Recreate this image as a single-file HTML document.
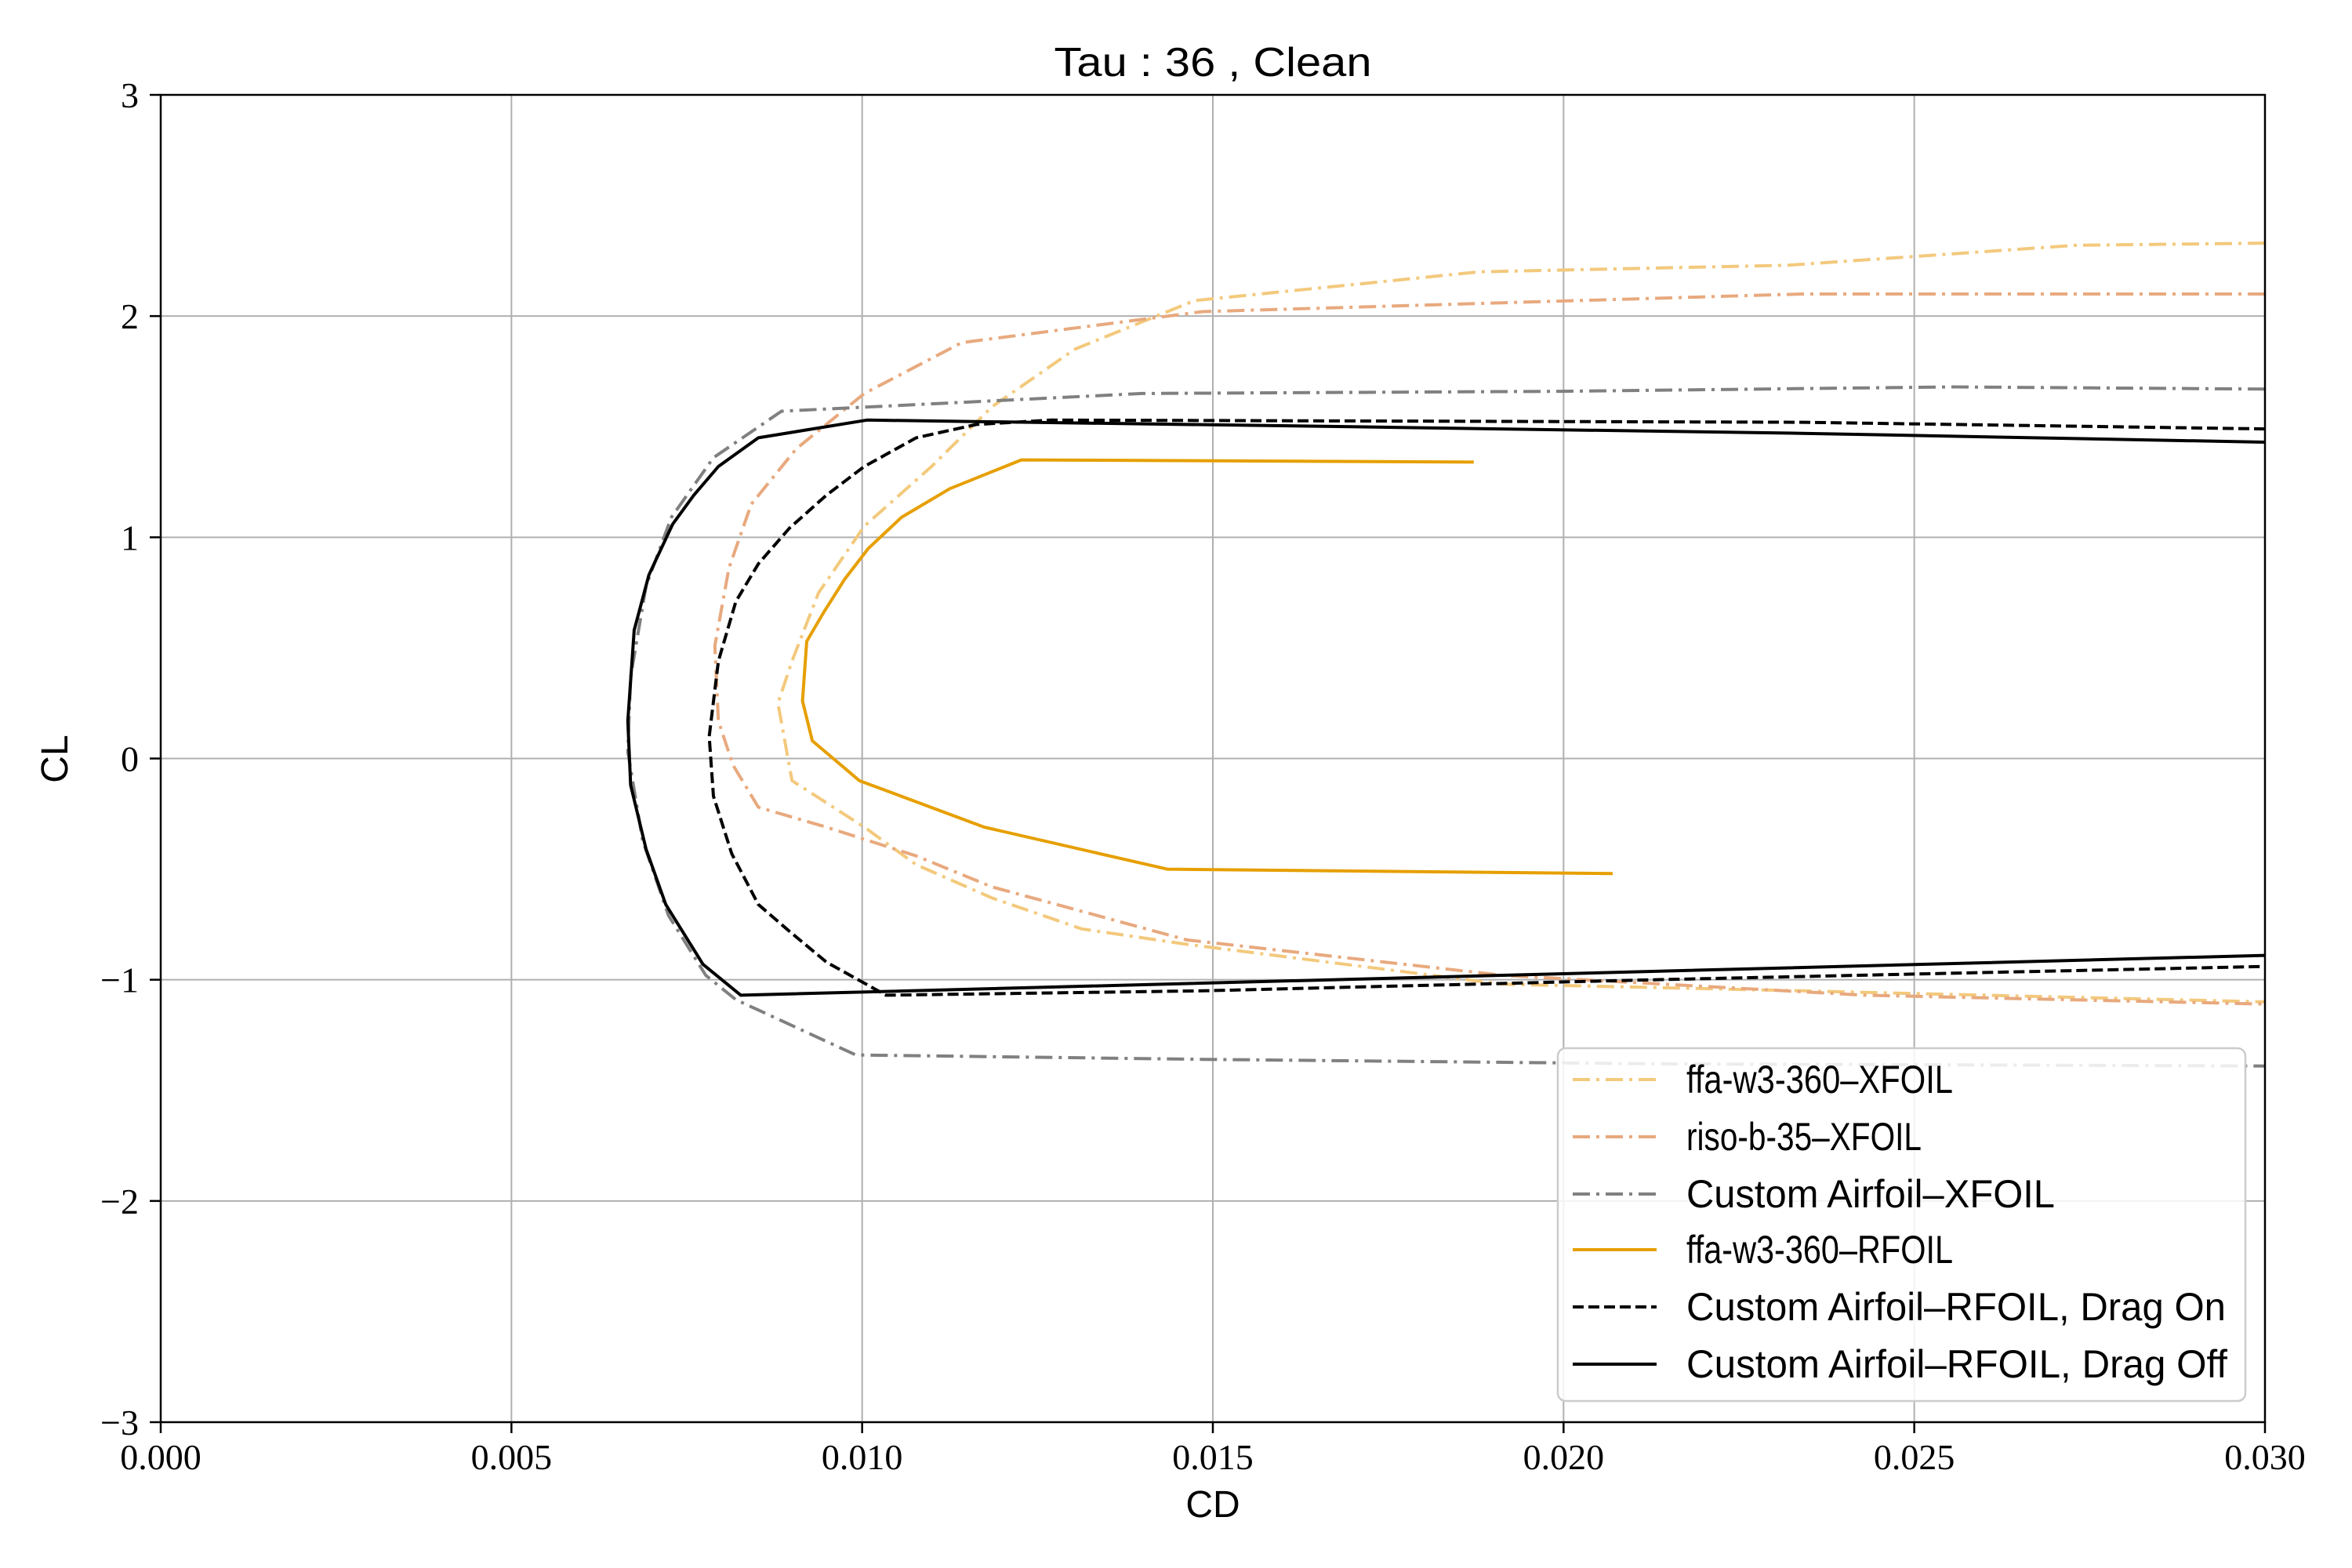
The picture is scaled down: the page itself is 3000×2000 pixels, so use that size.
<!DOCTYPE html>
<html><head><meta charset="utf-8"><style>
html,body{margin:0;padding:0;background:#fff;}
svg{display:block;}
.tick{font-family:"Liberation Serif",serif;font-size:46px;fill:#000;}
.lab{font-family:"Liberation Sans",sans-serif;fill:#000;}
</style></head><body>
<svg id="chart" width="3000" height="2000" viewBox="0 0 3000 2000">
<rect width="3000" height="2000" fill="#fff"/>
<g id="grid"></g>
<g id="series"></g>
<rect x="205" y="121" width="2684" height="1693" fill="none" stroke="#000" stroke-width="2.5"/>
<g id="ticks"></g>
<text x="1547" y="97" text-anchor="middle" class="lab" font-size="52" textLength="405" lengthAdjust="spacingAndGlyphs">Tau : 36 , Clean</text>
<text x="1547" y="1935" text-anchor="middle" class="lab" font-size="48">CD</text>
<text x="86" y="968" text-anchor="middle" class="lab" font-size="48" transform="rotate(-90 86 968)">CL</text>
<g id="legend"></g>
</svg>
<script>
const xTicks=[0,0.005,0.010,0.015,0.020,0.025,0.030];
const xTickLabels=["0.000","0.005","0.010","0.015","0.020","0.025","0.030"];
const yTicks=[-3,-2,-1,0,1,2,3];
const yTickLabels=["\u22123","\u22122","\u22121","0","1","2","3"];
const seriesNames=["ffa-w3-360\u2013XFOIL","riso-b-35\u2013XFOIL","Custom Airfoil\u2013XFOIL","ffa-w3-360\u2013RFOIL","Custom Airfoil\u2013RFOIL, Drag On","Custom Airfoil\u2013RFOIL, Drag Off"];
const ffaXfoilCD=[.030,.0273,.0232,.0188,.01474,.01303,.01185,.01099,.01003,.00938,.0090,.0088,.0090,.01003,.01077,.01185,.01313,.01463,.01913,.0234,.030];
const ffaXfoilCL=[2.33,2.32,2.23,2.20,2.07,1.85,1.59,1.32,1.05,0.75,0.44,0.25,-0.10,-0.31,-0.48,-0.63,-0.77,-0.84,-1.02,-1.05,-1.10];
const risoXfoilCD=[.030,.0234,.01913,.01485,.01142,.01003,.00906,.00842,.0081,.0079,.00795,.00816,.00852,.00949,.01077,.01185,.01463,.01913,.0243,.030];
const risoXfoilCL=[2.10,2.10,2.06,2.02,1.88,1.65,1.40,1.15,0.86,0.51,0.17,-0.03,-0.22,-0.31,-0.44,-0.58,-0.82,-0.98,-1.07,-1.11];
const customXfoilCD=[.030,.02555,.01998,.01399,.01013,.00885,.00788,.00728,.00692,.00670,.00666,.00687,.00724,.00777,.00820,.00991,.01485,.02127,.030];
const customXfoilCL=[1.67,1.68,1.66,1.65,1.59,1.57,1.36,1.09,0.78,0.37,0.03,-0.37,-0.71,-0.98,-1.09,-1.34,-1.36,-1.38,-1.39];
const ffaRfoilCD=[.01872,.01227,.01125,.01056,.01009,.00975,.00945,.00921,.00915,.00929,.00996,.01174,.01435,.0207];
const ffaRfoilCL=[1.34,1.35,1.22,1.09,0.95,0.81,0.66,0.53,0.26,0.08,-0.10,-0.31,-0.50,-0.52];
const dragOnCD=[.030,.0234,.0127,.01163,.01077,.01003,.00949,.00896,.00852,.00820,.00795,.00782,.00788,.00814,.00852,.00896,.00949,.01034,.01485,.02127,.030];
const dragOnCL=[1.49,1.52,1.53,1.51,1.45,1.32,1.19,1.04,0.88,0.71,0.44,0.10,-0.17,-0.43,-0.66,-0.78,-0.92,-1.07,-1.05,-1.00,-0.94];
const dragOffCD=[.030,.0234,.01698,.01007,.00852,.00795,.00760,.00730,.00696,.00675,.00666,.00670,.00692,.00720,.00773,.00827,.01913,.030];
const dragOffCL=[1.43,1.47,1.50,1.53,1.45,1.32,1.19,1.06,0.83,0.58,0.17,-0.12,-0.41,-0.66,-0.93,-1.07,-0.98,-0.89];

const L=205,R=2889,T=121,B=1814;
const sx=v=>L+(v-0)/(0.03-0)*(R-L);
const sy=v=>B-(v+3)/6*(B-T);
const NS="http://www.w3.org/2000/svg";
function mk(tag,parent,attrs){const e=document.createElementNS(NS,tag);for(const k in attrs)e.setAttribute(k,attrs[k]);parent.appendChild(e);return e;}
const grid=document.getElementById('grid'),ticks=document.getElementById('ticks');
xTicks.forEach((v,i)=>{
  const g=mk('line',grid,{x1:sx(v),x2:sx(v),y1:T,y2:B,stroke:'#b0b0b0','stroke-width':2});
  
  
  const t=mk('line',ticks,{x1:sx(v),x2:sx(v),y1:B,y2:B+14,stroke:'#000','stroke-width':2.5});
  
  
  const tx=mk('text',ticks,{x:sx(v),y:B+60,'text-anchor':'middle','class':'tick'});
  tx.textContent=xTickLabels[i];
  
  
});
yTicks.forEach((v,i)=>{
  const g=mk('line',grid,{x1:L,x2:R,y1:sy(v),y2:sy(v),stroke:'#b0b0b0','stroke-width':2});
  
  
  const t=mk('line',ticks,{x1:L-14,x2:L,y1:sy(v),y2:sy(v),stroke:'#000','stroke-width':2.5});
  
  
  const tx=mk('text',ticks,{x:L-28,y:sy(v)+16,'text-anchor':'end','class':'tick'});
  tx.textContent=yTickLabels[i];
  
  
});
const styles=[
 {c:'#f3c97c',d:'22,8,4,8',x:ffaXfoilCD,y:ffaXfoilCL,n:'ffa-xfoil-line'},
 {c:'#e8a97e',d:'22,8,4,8',x:risoXfoilCD,y:risoXfoilCL,n:'riso-xfoil-line'},
 {c:'#808080',d:'22,8,4,8',x:customXfoilCD,y:customXfoilCL,n:'custom-xfoil-line'},
 {c:'#e69f00',d:'',x:ffaRfoilCD,y:ffaRfoilCL,n:'ffa-rfoil-line'},
 {c:'#000000',d:'14,6',x:dragOnCD,y:dragOnCL,n:'drag-on-line'},
 {c:'#000000',d:'',x:dragOffCD,y:dragOffCL,n:'drag-off-line'}];
const sg=document.getElementById('series');
styles.forEach(s=>{
  const pts=s.x.map((v,i)=>sx(v).toFixed(1)+','+sy(s.y[i]).toFixed(1)).join(' ');
  const a={points:pts,fill:'none',stroke:s.c,'stroke-width':4,'stroke-linejoin':'round'};
  if(s.d)a['stroke-dasharray']=s.d;
  const p=mk('polyline',sg,a);
  
  
});
const lg=document.getElementById('legend');
const box=mk('rect',lg,{x:1987,y:1337,width:877,height:450,rx:10,fill:'#fff','fill-opacity':0.85,stroke:'#cccccc','stroke-width':2.5});


const rowY=[1377,1450,1523,1594,1667,1740];
const widths=[340,300,470,340,688,690];
styles.forEach((s,i)=>{
  const a={x1:2006,x2:2113,y1:rowY[i],y2:rowY[i],stroke:s.c,'stroke-width':4};
  if(s.d)a['stroke-dasharray']=s.d;
  const l=mk('line',lg,a);
  
  
  const t=mk('text',lg,{x:2151,y:rowY[i]+17,'class':'lab','font-size':50,textLength:widths[i],lengthAdjust:'spacingAndGlyphs'});
  t.textContent=seriesNames[i];
  
  
});
</script>
</body></html>
